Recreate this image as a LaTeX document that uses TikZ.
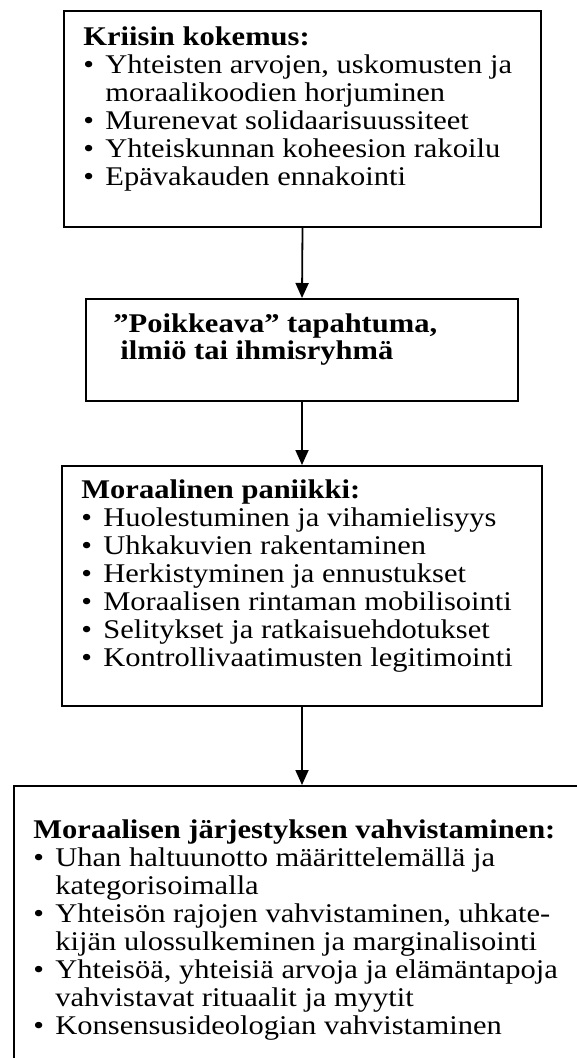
\documentclass[tikz,border=0pt]{standalone}
\usepackage{fontspec}
\setmainfont{Liberation Serif}[FakeStretch=1.13]
\usetikzlibrary{arrows.meta}

\tikzset{
  box/.style={draw, line width=1pt, rectangle, inner sep=0pt, anchor=north west},
  boxtext/.style={anchor=north west, inner sep=0pt, align=left, font=\fontsize{13.5}{14}\selectfont},
  conn/.style={line width=0.9pt, -{Triangle[width=6.5pt,length=7.5pt]}}
}
\newcommand{\bul}{\makebox[11pt][l]{\textbullet}}
\newcommand{\cnt}{\hspace*{11pt}}

\begin{document}
\begin{tikzpicture}[x=0.5pt, y=-0.5pt]
  \useasboundingbox (0,0) rectangle (577,1058);
  \clip (0,0) rectangle (577,1058);

  % boxes
  \node[box, minimum width=238.5pt, minimum height=108pt] (kriisi) at (63,10) {};
  \node[box, minimum width=216pt, minimum height=51pt] (poikkeama) at (85,298) {};
  \node[box, minimum width=240pt, minimum height=120pt] (paniikki) at (61,465) {};
  \node[box, minimum width=293.5pt, minimum height=147.5pt] (vahvistus) at (13,785) {};

  % texts
  \node[boxtext] (kriisiteksti) at (83,26) {\textbf{Kriisin kokemus:}\\
    \bul Yhteisten arvojen, uskomusten ja\\
    \cnt moraalikoodien horjuminen\\
    \bul Murenevat solidaarisuussiteet\\
    \bul Yhteiskunnan koheesion rakoilu\\
    \bul Epävakauden ennakointi};
  \node[boxtext, font=\fontsize{13.5}{13.5}\selectfont\bfseries] (poikkeamateksti) at (113,313)
    {”Poikkeava” tapahtuma,\\ \hspace*{3.5pt}ilmiö tai ihmisryhmä};
  \node[boxtext] (paniikkiteksti) at (81,479) {\textbf{Moraalinen paniikki:}\\
    \bul Huolestuminen ja vihamielisyys\\
    \bul Uhkakuvien rakentaminen\\
    \bul Herkistyminen ja ennustukset\\
    \bul Moraalisen rintaman mobilisointi\\
    \bul Selitykset ja ratkaisuehdotukset\\
    \bul Kontrollivaatimusten legitimointi};
  \node[boxtext] (vahvistusteksti) at (33,819) {\textbf{Moraalisen järjestyksen vahvistaminen:}\\
    \bul Uhan haltuunotto määrittelemällä ja\\
    \cnt kategorisoimalla\\
    \bul Yhteisön rajojen vahvistaminen, uhkate-\\
    \cnt kijän ulossulkeminen ja marginalisointi\\
    \bul Yhteisöä, yhteisiä arvoja ja elämäntapoja\\
    \cnt vahvistavat rituaalit ja myytit\\
    \bul Konsensusideologian vahvistaminen};

  % arrows
  \draw[conn] (kriisi.south) -- (poikkeama.north);
  \draw[conn] (poikkeama.south) -- (poikkeama.south |- paniikki.north);
  \draw[conn] (paniikki.south -| poikkeama.south) -- (poikkeama.south |- vahvistus.north);
\end{tikzpicture}
\end{document}
